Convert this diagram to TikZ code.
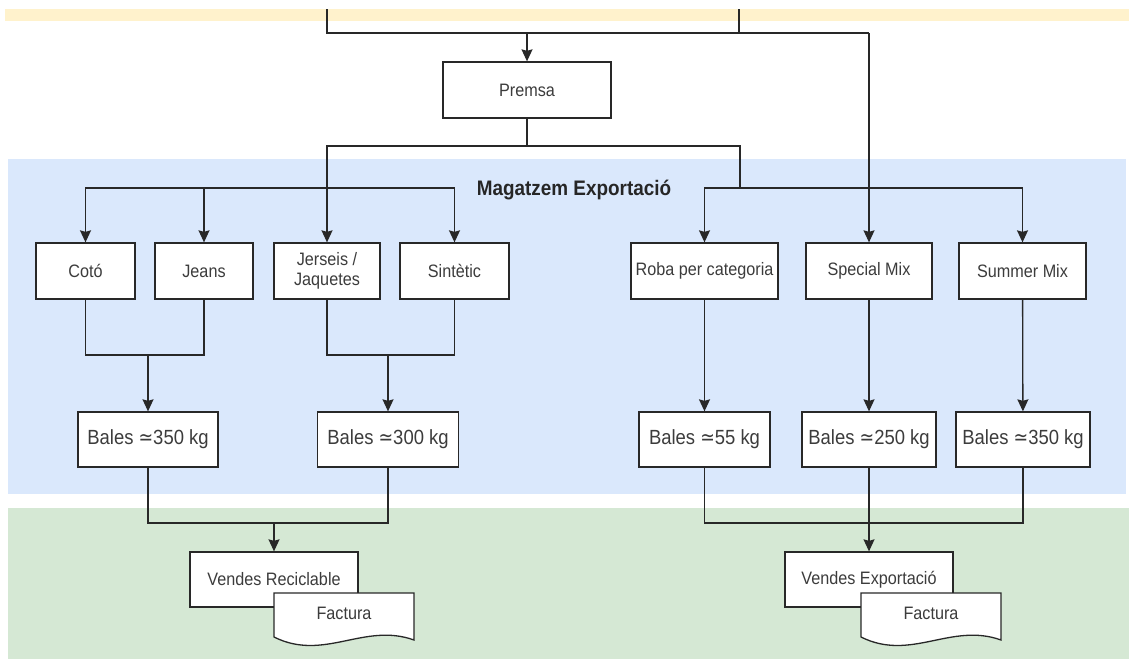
\documentclass[tikz,border=0pt]{standalone}
\usepackage{fontspec}
\setmainfont{Liberation Sans}[FakeStretch=0.9]
\newfontfamily\dejavu{DejaVu Sans}[FakeStretch=0.85]
\usetikzlibrary{arrows.meta}
\definecolor{bandorange}{RGB}{255,242,204}
\definecolor{bandblue}{RGB}{218,232,252}
\definecolor{bandgreen}{RGB}{213,232,212}
\definecolor{linegray}{RGB}{40,40,40}
\definecolor{textgray}{RGB}{60,60,60}

\begin{document}
\begin{tikzpicture}[x=1pt, y=-1pt,
    caixa/.style={draw=linegray, fill=white, line width=1.3pt, minimum height=56pt,
      inner sep=2pt, align=center, text=textgray, font=\fontsize{18}{20}\selectfont},
    bala/.style={caixa, minimum height=55pt, font=\fontsize{20.5}{23}\selectfont},
    fil/.style={draw=linegray, line width=1.3pt},
    fletxa/.style={fil, -{Stealth[length=12pt, width=11pt, inset=1.5pt]}}]
    \useasboundingbox (0,0) rectangle (1129,659);

    % Franges de fons
    \fill[bandorange] (5,9) rectangle (1129,21);
    \fill[bandblue] (8,159) rectangle (1126,494);
    \fill[bandgreen] (8,508) rectangle (1129,659);
    \node[font=\bfseries\fontsize{21}{24}\selectfont, text=black!85] (magatzem) at (574,190) {Magatzem Exportació};

    % Premsa
    \node[caixa, minimum width=168pt] (premsa) at (527,90) {Premsa};

    % Classificació
    \foreach \nom/\x/\w/\txt in {coto/85.5/99/Cotó, jeans/204/98/Jeans, sintetic/454.5/109/Sintètic,
        roba/704.5/147/Roba per categoria, special/869/126/Special Mix, summer/1022.5/127/Summer Mix}
        \node[caixa, minimum width=\w pt] (\nom) at (\x,271) {\txt};
    \node[caixa, minimum width=106pt] (jerseis) at (327,271) {Jerseis /\\Jaquetes};

    % Bales
    \foreach \nom/\x/\w/\kg in {balesA/148/140/350, balesB/388/141/300, balesC/704.5/131/55,
        balesD/869/134/250, balesE/1023/134/350}
        \node[bala, minimum width=\w pt] (\nom) at (\x,439.5) {Bales {\dejavu ≃}\kg{} kg};

    % Vendes
    \node[caixa, minimum width=168pt, minimum height=55pt] (vendesR) at (274,579.5) {Vendes Reciclable};
    \node[caixa, minimum width=168pt, minimum height=55pt] (vendesE) at (869,579.5) {Vendes Exportació};
    \foreach \x/\nom in {274/factR, 861/factE} {
        \filldraw[fil, fill=white] (\x,593) -- (\x+140,593) -- (\x+140,640)
            .. controls (\x+90,622) and (\x+50,662) .. (\x,637) -- cycle;
        \node[text=textgray, font=\fontsize{18}{20}\selectfont] (\nom) at (\x+70,613) {Factura};
    }

    % Entrades
    \coordinate (entA) at (327,9);
    \coordinate (entB) at (739,9);
    \coordinate (nus) at (869,33);
    \draw[fil] (entA) |- (nus);
    \draw[fil] (entB) -- (entB |- nus);
    \draw[fletxa] (nus) -- (special);
    \draw[fletxa] (premsa.north |- nus) -- (premsa);

    % Repartiment
    \coordinate (pA) at (527,146);
    \coordinate (pB) at (740,188);
    \coordinate (eA) at (327,188);
    \draw[fil] (premsa) -- (pA);
    \draw[fletxa] (pA) -| (jerseis);
    \draw[fil] (pA) -| (pB);
    \foreach \n in {coto, jeans, sintetic}
        \draw[fletxa] (eA) -| (\n);
    \foreach \n in {roba, summer}
        \draw[fletxa] (pB) -| (\n);

    % Cap a les bales
    \coordinate (mA) at (148,355);
    \coordinate (mB) at (388,355);
    \draw[fil] (coto) |- (mA);
    \draw[fil] (jeans) |- (mA);
    \draw[fletxa] (mA) -- (balesA);
    \draw[fil] (jerseis) |- (mB);
    \draw[fil] (sintetic) |- (mB);
    \draw[fletxa] (mB) -- (balesB);
    \draw[fletxa] (roba) -- (balesC);
    \draw[fletxa] (special) -- (balesD);
    \draw[fletxa] (summer) -- (balesE);

    % Cap a les vendes
    \coordinate (mC) at (274,523);
    \coordinate (mD) at (869,523);
    \draw[fil] (balesA) |- (mC);
    \draw[fil] (balesB) |- (mC);
    \draw[fletxa] (mC) -- (vendesR);
    \draw[fil] (balesC) |- (mD);
    \draw[fil] (balesE) |- (mD);
    \draw[fletxa] (balesD) -- (vendesE);
\end{tikzpicture}
\end{document}
